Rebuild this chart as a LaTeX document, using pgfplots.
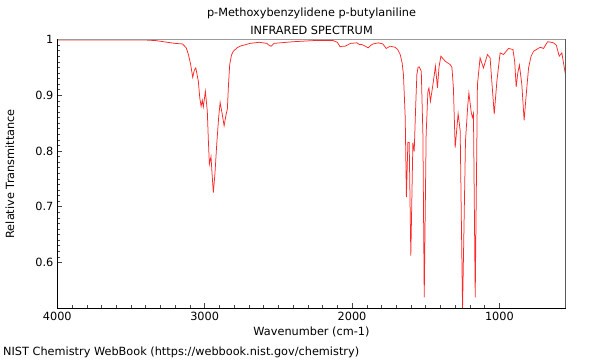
\documentclass[border=0pt]{standalone}
\usepackage{pgfplots}
\pgfplotsset{compat=1.18}
\usepackage{fontspec}
\setmainfont{DejaVu Sans}
\definecolor{topgray}{RGB}{155,155,155}
\definecolor{rightgray}{RGB}{90,90,90}
\definecolor{ticksgray}{RGB}{70,70,70}
\definecolor{specred}{RGB}{255,40,40}
\begin{document}
\fontsize{11.3bp}{13bp}\selectfont
\begin{tikzpicture}
\begin{axis}[
  scale only axis,
  width=508.4bp, height=268.5bp,
  x dir=reverse,
  xmin=550, xmax=4000,
  ymin=0.518, ymax=1.0,
  xtick={1000,2000,3000,4000},
  ytick={0.6,0.7,0.8,0.9,1.0},
  minor x tick num=9,
  minor y tick num=9,
  tick align=inside,
  xtick pos=bottom, ytick pos=left,
  major tick length=5bp, minor tick length=3bp,
  every tick/.style={ticksgray, line width=0.5bp},
  /pgf/number format/assume math mode=true,
  tick label style={font=\fontsize{11.3bp}{13bp}\selectfont},
  x tick label style={/pgf/number format/1000 sep={}},
  axis line style={draw=none},
  xlabel={Wavenumber (cm-1)},
  ylabel={Relative Transmittance},
  xlabel style={at={(axis description cs:0.5,-0.0894)}, anchor=center},
  ylabel style={at={(axis description cs:-0.093,0.5)}, anchor=center, rotate=0},
  clip mode=individual,
]
\addplot[color=specred, line width=0.75bp] coordinates {
(4000,0.999) (3800,0.999) (3600,0.999) (3400,0.999) (3330,0.998) (3280,0.996)
(3200,0.993) (3150,0.992) (3125,0.985) (3110,0.973) (3095,0.955) (3081,0.932)
(3070,0.945) (3060,0.949) (3050,0.935) (3043,0.925) (3033,0.895) (3024,0.880)
(3016,0.891) (3009,0.879) (2995,0.907) (2982,0.871) (2975,0.82) (2968,0.776)
(2957,0.790) (2950,0.76) (2941,0.725) (2930,0.76) (2918,0.812) (2905,0.86)
(2895,0.887) (2880,0.865) (2868,0.845) (2855,0.865) (2846,0.875) (2838,0.92)
(2830,0.955) (2818,0.972) (2805,0.979) (2780,0.985) (2760,0.988) (2692,0.993)
(2630,0.995) (2578,0.993) (2560,0.989) (2549,0.988) (2530,0.993) (2488,0.994)
(2400,0.996) (2264,0.998) (2128,0.998) (2100,0.995) (2081,0.987) (2065,0.988)
(2047,0.988) (2010,0.993) (1967,0.994) (1950,0.991) (1933,0.991) (1910,0.988)
(1891,0.985) (1870,0.990) (1857,0.992) (1821,0.994) (1791,0.992) (1768,0.984)
(1741,0.988) (1707,0.986) (1690,0.982) (1673,0.973) (1660,0.958) (1651,0.937)
(1639,0.860) (1631,0.717) (1621,0.815) (1612,0.815) (1601,0.612) (1587,0.815)
(1578,0.799) (1568,0.88) (1560,0.937) (1552,0.950) (1544,0.951) (1530,0.943)
(1519,0.830) (1510,0.537) (1497,0.830) (1485,0.907) (1478,0.913) (1468,0.889)
(1451,0.919) (1434,0.952) (1420,0.913) (1410,0.95) (1397,0.970) (1380,0.965)
(1368,0.961) (1334,0.955) (1322,0.950) (1312,0.913) (1300,0.806) (1280,0.867)
(1266,0.836) (1250,0.515) (1230,0.818) (1215,0.88) (1207,0.904) (1191,0.869)
(1183,0.860) (1176,0.867) (1164,0.537) (1149,0.919) (1131,0.967) (1108,0.949)
(1081,0.973) (1063,0.967) (1050,0.92) (1035,0.866) (1017,0.925) (995,0.976)
(972,0.973) (938,0.984) (908,0.982) (896,0.96) (886,0.915) (875,0.94)
(864,0.954) (848,0.92) (832,0.855) (815,0.91) (802,0.949) (785,0.970)
(768,0.979) (723,0.986) (700,0.984) (673,0.996) (650,0.995) (633,0.994)
(614,0.990) (594,0.970) (576,0.976) (560,0.950) (550,0.935)
};
\draw[topgray, line width=0.8bp] (rel axis cs:0,1) -- (rel axis cs:1,1);
\draw[rightgray, line width=0.8bp] (rel axis cs:1,1) -- (rel axis cs:1,0);
\draw[black, line width=0.8bp] (rel axis cs:0,1) -- (rel axis cs:0,0) -- (rel axis cs:1,0);
\end{axis}
\node[anchor=center] at (254.2bp,295bp) {p-Methoxybenzylidene p-butylaniline};
\node[anchor=center] at (254.2bp,278bp) {INFRARED SPECTRUM};
\node[anchor=west, inner sep=0pt] at (-54.3bp,-44bp) {NIST Chemistry WebBook (https://webbook.nist.gov/chemistry)};
\pgfresetboundingbox
\useasboundingbox (-57.3bp,-52bp) rectangle (542.7bp,308bp);
\end{tikzpicture}
\end{document}
